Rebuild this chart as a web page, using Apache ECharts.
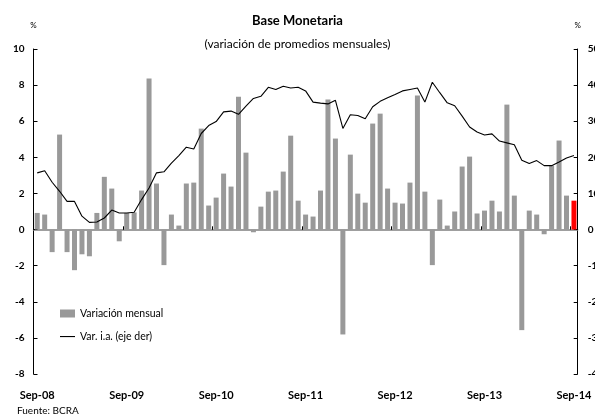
<!DOCTYPE html>
<html>
<head>
<meta charset="utf-8">
<script src="https://cdn.jsdelivr.net/npm/echarts@6/dist/echarts.min.js"></script>
<style>html,body{margin:0;padding:0;background:#fff;}#c{width:595px;height:414px;}</style>
</head>
<body>
<div id="c"></div>
<script>
var monthNames = ['Sep','Oct','Nov','Dic','Ene','Feb','Mar','Abr','May','Jun','Jul','Ago'];
var categories = [];
(function(){
  var y = 8, m = 0;
  for (var k = 0; k < 73; k++) {
    categories.push(monthNames[m] + '-' + (y < 10 ? '0' + y : '' + y));
    m++; if (m === 4) { y++; } if (m === 12) { m = 0; }
  }
})();
var monthlyVar = [0.92,0.83,-1.25,5.26,-1.25,-2.25,-1.37,-1.48,0.92,2.92,2.27,-0.65,
  0.92,0.95,2.16,8.36,2.55,-1.97,0.83,0.22,2.55,2.6,5.59,1.33,
  1.77,3.1,2.38,7.36,4.26,-0.15,1.27,2.1,2.16,3.21,5.2,1.6,
  0.83,0.72,2.16,7.2,5.04,-5.81,4.15,1.99,1.49,5.87,6.42,2.27,
  1.49,1.44,2.6,7.42,2.1,-1.97,1.66,0.22,1.0,3.49,4.04,0.89,
  1.05,1.6,1.0,6.92,1.88,-5.57,1.05,0.83,-0.26,3.54,4.93,1.88,
  1.6];
var yoyVar = [15.7,16.3,13.1,10.6,7.8,7.8,3.7,2.0,2.1,3.2,5.4,4.6,
  4.6,4.8,8.3,11.5,15.7,16.0,18.4,20.5,22.8,22.3,26.6,28.8,
  29.9,32.6,32.8,31.9,34.2,36.3,36.9,39.4,38.8,39.7,39.2,39.4,
  38.4,35.3,35.0,34.8,35.8,28.0,31.8,31.6,30.7,34.0,35.5,36.5,
  37.4,38.4,38.8,39.2,35.3,40.8,37.9,35.1,34.3,31.4,28.4,27.0,
  26.2,26.5,24.5,24.0,23.5,19.2,18.3,19.1,17.7,17.7,18.7,19.8,
  20.5];
var leftTicks = {min: -8, max: 10, interval: 2};
var rightTicks = {min: -40, max: 50, interval: 10};
var highlightIndex = 72;

var FONT = 'Lato';
var barData = monthlyVar.map(function(v, i){
  return i === highlightIndex ? {value: v, itemStyle: {color: '#ff0000'}} : v;
});
var chart = echarts.init(document.getElementById('c'), null, {renderer: 'canvas'});
chart.setOption({
  animation: false,
  textStyle: {fontFamily: FONT},
  title: [
    {text: 'Base Monetaria', left: 'center', top: 9, textStyle: {fontFamily: FONT, fontSize: 13, fontWeight: 'bold', color: '#000'}},
    {text: '(variación de promedios mensuales)', left: 'center', top: 33, textStyle: {fontFamily: FONT, fontSize: 12, fontWeight: 'normal', color: '#000'}},
    {text: 'Fuente: BCRA', left: 12, top: 401, textStyle: {fontFamily: FONT, fontSize: 10, fontWeight: 'normal', color: '#000'}}
  ],
  legend: {
    orient: 'vertical', left: 55, top: 303, itemWidth: 15, itemHeight: 8, itemGap: 12,
    textStyle: {fontFamily: FONT, fontSize: 10.5, color: '#000'},
    data: [{name: 'Variación mensual', icon: 'rect'},
           {name: 'Var. i.a. (eje der)', icon: 'path://M0,0 M15,8 M0,3.5 L15,3.5 L15,4.6 L0,4.6 Z'}]
  },
  grid: {left: 33.5, right: 17.3, top: 49, bottom: 40, outerBoundsMode: 'none', containLabel: false},
  xAxis: [
    {type: 'category', data: categories, boundaryGap: true,
     axisLine: {onZero: true, lineStyle: {color: '#808080', width: 1.5}},
     axisTick: {show: true, inside: true, length: 3, interval: 11, lineStyle: {color: '#000'}},
     axisLabel: {show: false}, splitLine: {show: false}},
    {type: 'category', data: categories, boundaryGap: true, position: 'bottom',
     axisLine: {show: false, onZero: false}, axisTick: {show: false},
     axisLabel: {show: true, interval: 11, margin: 16, fontFamily: FONT, fontSize: 11, fontWeight: 'bold', color: '#000'},
     splitLine: {show: false}},
    {type: 'category', data: categories, boundaryGap: true,
     axisLine: {show: false, onZero: true},
     axisTick: {show: true, inside: false, length: 3, interval: 11, lineStyle: {color: '#000'}},
     axisLabel: {show: false}, splitLine: {show: false}}
  ],
  yAxis: [
    {type: 'value', min: leftTicks.min, max: leftTicks.max, interval: leftTicks.interval, position: 'left',
     name: '%', nameLocation: 'end', nameGap: 20, nameTextStyle: {fontFamily: FONT, fontSize: 8, color: '#000'},
     axisLine: {show: true, lineStyle: {color: '#000', width: 1}},
     axisTick: {show: true, inside: true, length: 4, lineStyle: {color: '#000'}},
     axisLabel: {margin: 9, fontFamily: FONT, fontSize: 10, fontWeight: 'bold', color: '#000'},
     splitLine: {show: false}},
    {type: 'value', min: rightTicks.min, max: rightTicks.max, interval: rightTicks.interval, position: 'right',
     name: '%', nameLocation: 'end', nameGap: 20, nameTextStyle: {fontFamily: FONT, fontSize: 8, color: '#000'},
     axisLine: {show: true, lineStyle: {color: '#000', width: 1}},
     axisTick: {show: true, inside: true, length: 4, lineStyle: {color: '#000'}},
     axisLabel: {margin: 10, fontFamily: FONT, fontSize: 10, fontWeight: 'bold', color: '#000'},
     splitLine: {show: false}}
  ],
  series: [
    {name: 'Variación mensual', type: 'bar', xAxisIndex: 0, yAxisIndex: 0, data: barData,
     barWidth: 5, itemStyle: {color: '#999999'}, z: 1},
    {name: 'Var. i.a. (eje der)', type: 'line', xAxisIndex: 0, yAxisIndex: 1, data: yoyVar,
     symbol: 'none', showSymbol: false, lineStyle: {color: '#000', width: 1.1}, itemStyle: {color: '#000'}, z: 3}
  ]
});
</script>
</body>
</html>
